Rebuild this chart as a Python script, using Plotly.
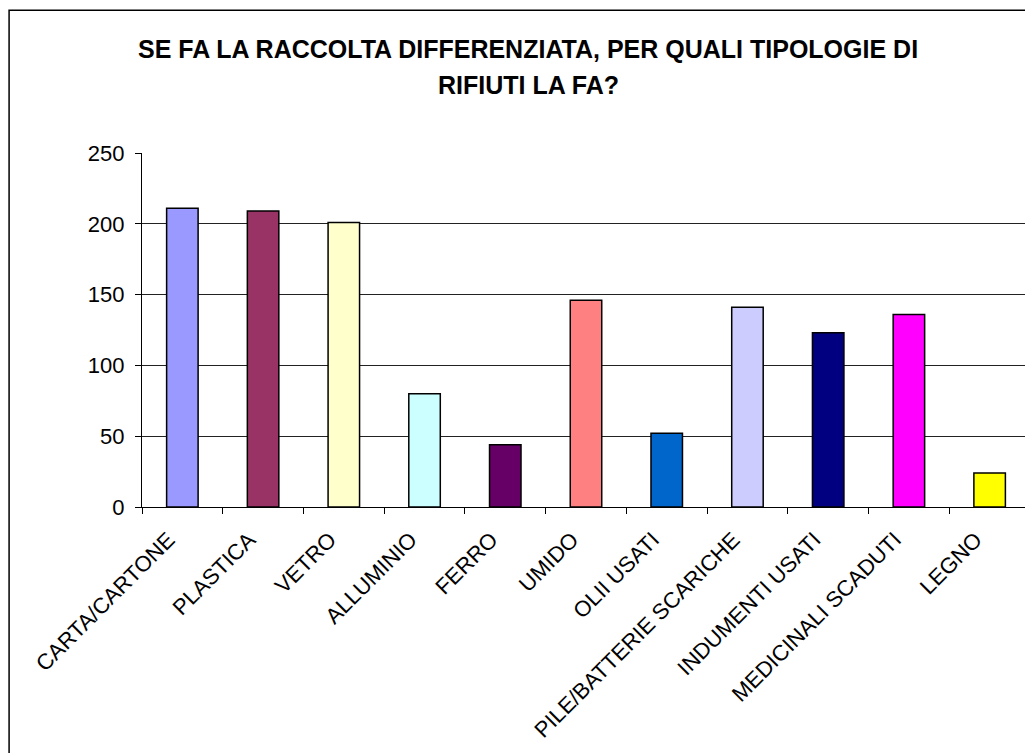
import plotly.graph_objects as go

categories = ["CARTA/CARTONE", "PLASTICA", "VETRO", "ALLUMINIO", "FERRO", "UMIDO",
              "OLII USATI", "PILE/BATTERIE SCARICHE", "INDUMENTI USATI",
              "MEDICINALI SCADUTI", "LEGNO"]
values = [211, 209, 201, 80, 44, 146, 52, 141, 123, 136, 24]
colors = ["#9999FF", "#993366", "#FFFFCC", "#CCFFFF", "#660066", "#FF8080",
          "#0066CC", "#CCCCFF", "#000080", "#FF00FF", "#FFFF00"]
y_ticks = [0, 50, 100, 150, 200, 250]
title_lines = ["SE FA LA RACCOLTA DIFFERENZIATA, PER QUALI TIPOLOGIE DI", "RIFIUTI LA FA?"]

W, H = 1033, 753
OFF = 8  # page body margin
L, R, T, B = 141.7 - OFF, 1030.3 - OFF, 153.3 - OFF, 507.5 - OFF
FONT = "Liberation Sans, Arial, sans-serif"

def px_x(p):
    return (p - OFF - L) / (R - L)

def px_y(q):
    return (B - (q - OFF)) / (B - T)

fig = go.Figure(go.Bar(
    x=categories, y=values, width=0.39,
    marker=dict(color=colors, line=dict(color="#000000", width=1.5)),
))

annotations = []
for line, yc in zip(title_lines, [49, 85.5]):
    annotations.append(dict(
        text="<b>" + line + "</b>", xref="paper", yref="paper",
        x=px_x(528), y=px_y(yc), xanchor="center", yanchor="middle",
        showarrow=False, font=dict(size=25, family=FONT, color="black"),
    ))

fig.update_layout(
    width=W, height=H,
    margin=dict(l=L, r=W - R, t=T, b=H - B, pad=0),
    paper_bgcolor="white", plot_bgcolor="white",
    font=dict(family=FONT, color="black", size=22),
    showlegend=False,
    annotations=annotations,
    shapes=[
        dict(type="rect", xref="paper", yref="paper",
             x0=px_x(8.7), x1=px_x(1080), y0=px_y(800), y1=px_y(10.5),
             line=dict(color="black", width=1.5), layer="below"),
        dict(type="line", xref="paper", yref="paper",
             x0=1, x1=1, y0=0, y1=1, line=dict(color="#808080", width=1.5)),
    ],
)
fig.update_xaxes(
    type="category", showline=True, linecolor="black", linewidth=1.2,
    ticks="outside", tickson="boundaries", ticklen=6, tickcolor="black",
    tickangle=-45, showgrid=False, tickfont=dict(size=22),
    ticklabelshift=-14, ticklabelstandoff=10,
)
fig.update_yaxes(
    range=[0, 250], tickvals=y_ticks, showline=True, linecolor="black", linewidth=1.2,
    ticks="outside", ticklen=6, tickcolor="black", showgrid=True,
    gridcolor="#222222", gridwidth=1, zeroline=False, tickfont=dict(size=22),
    ticklabelstandoff=6,
)

fig.write_html("out.html")
